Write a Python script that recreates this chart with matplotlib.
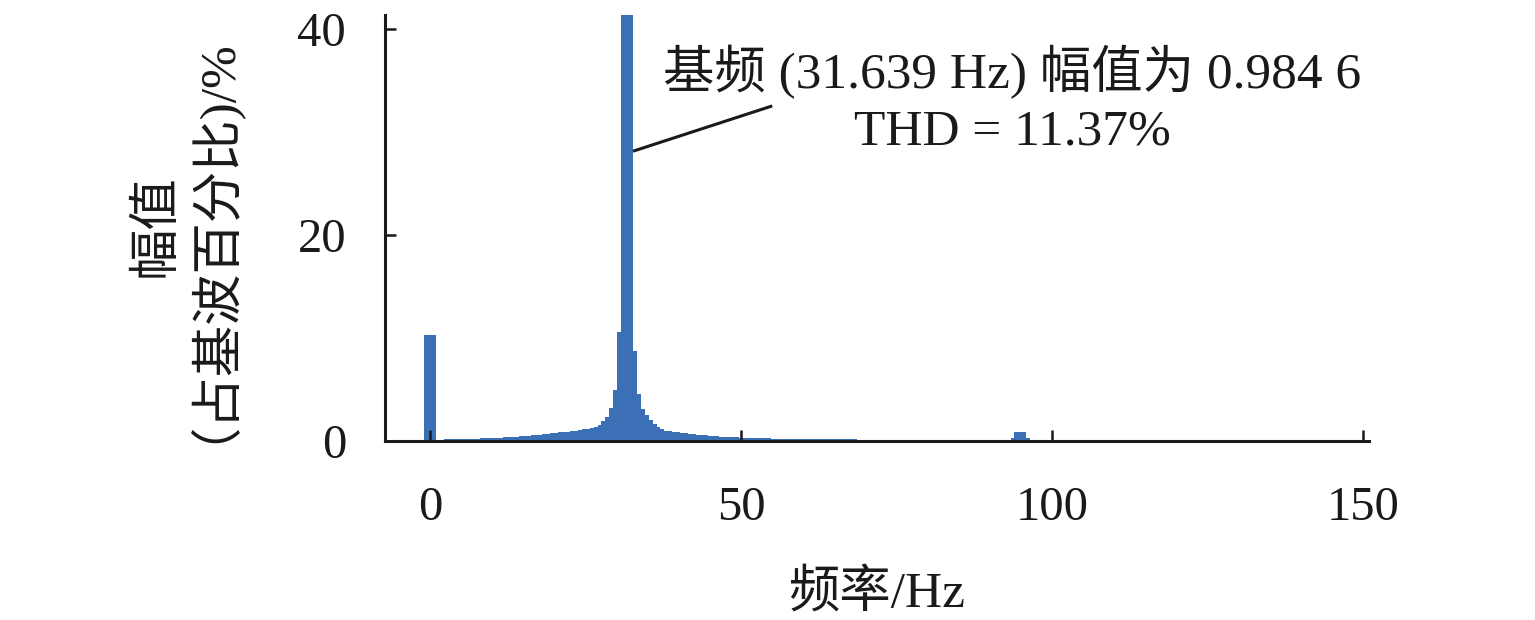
import matplotlib
matplotlib.use("Agg")
import matplotlib.pyplot as plt
import numpy as np

# ---- data ----
fundamental_hz = 31.639
bin_count_to_fund = 50                      # fundamental sits on FFT bin 50
bin_index = list(range(0, 116)) + [149, 150, 151]
amplitude_pct = [
    10.2, 0.06, 0.07, 0.08, 0.09, 0.10, 0.11, 0.12, 0.13, 0.14,
    0.15, 0.16, 0.17, 0.18, 0.20, 0.21, 0.23, 0.25, 0.27, 0.29,
    0.31, 0.33, 0.35, 0.38, 0.41, 0.44, 0.47, 0.50, 0.54, 0.58,
    0.62, 0.66, 0.70, 0.74, 0.78, 0.82, 0.87, 0.92, 0.97, 1.02,
    1.08, 1.14, 1.21, 1.29, 1.49, 1.87, 2.30, 3.17, 4.95, 10.5,
    100.0, 8.70, 4.56, 3.10, 2.43, 1.97, 1.62, 1.33, 1.13, 0.97,
    0.90, 0.84, 0.79, 0.75, 0.70, 0.66, 0.62, 0.58, 0.54, 0.50,
    0.46, 0.43, 0.41, 0.38, 0.36, 0.34, 0.32, 0.30, 0.28, 0.27,
    0.25, 0.24, 0.23, 0.22, 0.21, 0.20, 0.19, 0.19, 0.18, 0.18,
    0.17, 0.17, 0.16, 0.16, 0.15, 0.15, 0.15, 0.14, 0.14, 0.14,
    0.13, 0.13, 0.12, 0.12, 0.11, 0.11, 0.10, 0.10, 0.09, 0.09,
    0.08, 0.07, 0.06, 0.05, 0.04, 0.03,
    0.20, 0.83, 0.20,
]
x_ticks = [0, 50, 100, 150]
y_ticks = [0, 20, 40]
annot_line1 = "基频 (31.639 Hz) 幅值为 0.984 6"
annot_line2 = "THD = 11.37%"
x_label = "频率/Hz"
y_label = "幅值\n（占基波百分比)/%"

# ---- styling ----
FAM = ["Liberation Serif", "Noto Sans CJK SC"]
plt.rcParams["font.family"] = FAM
TXT = "#1a1a1a"
BAR = "#3b6fb6"

W, H = 1535, 620
fig = plt.figure(figsize=(W / 100, H / 100), dpi=100)
ax = fig.add_axes([385 / W, 1 - 440.5 / H, (1369 - 385) / W, (440.5 - 15) / H])

df = fundamental_hz / bin_count_to_fund
freqs = np.array(bin_index) * df
ax.bar(freqs, amplitude_pct, width=3 * df, color=BAR, linewidth=0, zorder=1)

ax.set_xlim(-7.3, 151.0)
ax.set_ylim(0, 41.33)
ax.set_xticks(x_ticks)
ax.set_yticks(y_ticks)
for s in ("top", "right"):
    ax.spines[s].set_visible(False)
for s in ("left", "bottom"):
    ax.spines[s].set_linewidth(2.2)
    ax.spines[s].set_color(TXT)
    ax.spines[s].set_zorder(3)

ax.tick_params(axis="both", direction="in", length=8, width=1.8, colors=TXT,
               labelsize=35, labelcolor=TXT)
ax.tick_params(axis="x", pad=33)
ax.tick_params(axis="y", pad=28)

ax.set_xlabel(x_label, fontsize=37, color=TXT, labelpad=28)
fig.text(172 / W, 1 - 226 / H, y_label, fontsize=37, color=TXT,
         rotation=90, ha="center", va="center", multialignment="center",
         linespacing=0.45)

ax.plot([32.6, 55.0], [28.1, 32.5], color=TXT, lw=2.2, solid_capstyle="butt",
        clip_on=False, zorder=4)
ax.text(93.6, 35.8, annot_line1, fontsize=37, color=TXT, ha="center", va="center")
ax.text(93.6, 29.9, annot_line2, fontsize=37, color=TXT, ha="center", va="center")

fig.savefig("out.png", dpi=100)
